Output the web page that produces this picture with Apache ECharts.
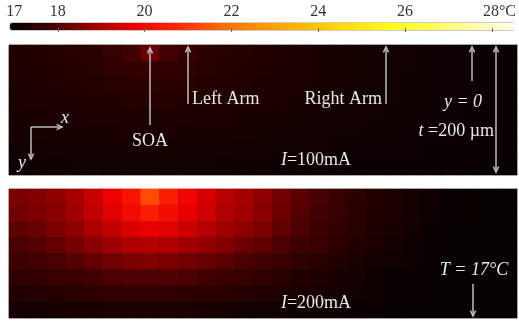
<!DOCTYPE html>
<html>
<head>
<meta charset="utf-8">
<script src="https://cdn.jsdelivr.net/npm/echarts@6/dist/echarts.min.js"></script>
<style>
  html, body { margin: 0; padding: 0; background: #fff; }
  #chart { width: 519px; height: 322px; }
</style>
</head>
<body>
<div id="chart"></div>
<script>
// colour scale (deg C) and the colours, evenly spaced from min to max
const scaleMin = 16.9
const scaleMax = 28.5
const scaleColors = ['#000000', '#420000', '#a00000', '#f00000', '#ff2800', '#ff6a00', '#ff9500',
  '#ffbb00', '#ffe000', '#ffff10', '#ffff50', '#ffffa8', '#fffff5']
const scaleLabels = [17, 18, 20, 22, 24, 26, 28]
const scaleTicks = [18, 20, 22, 24, 26, 28]

// cells: 27 columns along x, 8 rows along y (y = 0 at top)
const xCells = Array.from({ length: 27 }, (_, i) => 'x' + i)
const yCells = ['y0', 'y1', 'y2', 'y3', 'y4', 'y5', 'y6', 'y7']

// temperature, I = 100 mA
const temp100 = [
  [17.38, 17.4, 17.43, 17.48, 17.55, 17.66, 17.85, 18.25, 17.85, 17.66, 17.55, 17.48, 17.43, 17.39, 17.35, 17.31, 17.27, 17.24, 17.21, 17.18, 17.15, 17.13, 17.11, 17.09, 17.07, 17.06, 17.05],
  [17.36, 17.38, 17.41, 17.45, 17.5, 17.57, 17.64, 17.68, 17.64, 17.57, 17.5, 17.45, 17.41, 17.38, 17.34, 17.3, 17.27, 17.24, 17.21, 17.18, 17.15, 17.13, 17.11, 17.09, 17.07, 17.06, 17.05],
  [17.33, 17.35, 17.37, 17.4, 17.44, 17.48, 17.51, 17.53, 17.51, 17.48, 17.44, 17.4, 17.37, 17.34, 17.31, 17.28, 17.25, 17.22, 17.19, 17.17, 17.14, 17.12, 17.1, 17.08, 17.07, 17.06, 17.05],
  [17.3, 17.32, 17.34, 17.36, 17.38, 17.4, 17.42, 17.43, 17.42, 17.4, 17.38, 17.36, 17.33, 17.3, 17.28, 17.25, 17.23, 17.2, 17.18, 17.15, 17.13, 17.11, 17.1, 17.08, 17.06, 17.05, 17.04],
  [17.26, 17.27, 17.29, 17.3, 17.32, 17.33, 17.34, 17.35, 17.34, 17.33, 17.31, 17.29, 17.27, 17.25, 17.23, 17.21, 17.19, 17.17, 17.15, 17.13, 17.12, 17.1, 17.09, 17.07, 17.06, 17.05, 17.04],
  [17.22, 17.23, 17.24, 17.25, 17.26, 17.27, 17.28, 17.28, 17.28, 17.27, 17.26, 17.24, 17.23, 17.21, 17.2, 17.18, 17.16, 17.15, 17.13, 17.12, 17.1, 17.09, 17.08, 17.07, 17.06, 17.05, 17.03],
  [17.16, 17.17, 17.18, 17.19, 17.2, 17.21, 17.21, 17.21, 17.21, 17.2, 17.19, 17.18, 17.17, 17.16, 17.15, 17.14, 17.13, 17.12, 17.1, 17.09, 17.08, 17.07, 17.06, 17.05, 17.05, 17.04, 17.03],
  [17.1, 17.11, 17.12, 17.13, 17.13, 17.14, 17.14, 17.14, 17.14, 17.13, 17.13, 17.12, 17.11, 17.1, 17.09, 17.09, 17.08, 17.07, 17.06, 17.05, 17.05, 17.04, 17.04, 17.03, 17.03, 17.03, 17.02],
]

// temperature, I = 200 mA
const temp200 = [
  [18.45, 18.55, 18.65, 18.9, 19.3, 19.75, 20.3, 21.3, 20.5, 19.9, 19.5, 19.1, 18.9, 18.65, 18.35, 18.1, 17.9, 17.7, 17.55, 17.4, 17.3, 17.2, 17.1, 17.05, 17.02, 17.0, 17.0],
  [18.35, 18.45, 18.6, 18.85, 19.2, 19.6, 20.05, 20.5, 20.1, 19.7, 19.4, 19.05, 18.85, 18.6, 18.3, 18.05, 17.85, 17.7, 17.5, 17.4, 17.3, 17.2, 17.1, 17.05, 17.02, 17.0, 17.0],
  [18.15, 18.25, 18.45, 18.65, 18.95, 19.25, 19.55, 19.7, 19.6, 19.35, 19.1, 18.85, 18.65, 18.45, 18.2, 17.95, 17.8, 17.65, 17.5, 17.35, 17.25, 17.15, 17.05, 17.02, 17.0, 17.0, 17.0],
  [17.95, 18.05, 18.2, 18.4, 18.6, 18.8, 19.0, 19.05, 19.0, 18.85, 18.7, 18.5, 18.3, 18.15, 17.95, 17.8, 17.7, 17.55, 17.4, 17.3, 17.2, 17.1, 17.05, 17.02, 17.0, 17.0, 17.0],
  [17.8, 17.85, 17.95, 18.05, 18.2, 18.35, 18.45, 18.5, 18.45, 18.35, 18.25, 18.1, 17.95, 17.85, 17.75, 17.6, 17.5, 17.4, 17.3, 17.2, 17.15, 17.1, 17.05, 17.02, 17.0, 17.0, 17.0],
  [17.6, 17.65, 17.7, 17.75, 17.85, 17.95, 18.0, 18.0, 18.0, 17.95, 17.85, 17.75, 17.7, 17.6, 17.5, 17.4, 17.35, 17.25, 17.2, 17.1, 17.05, 17.05, 17.02, 17.0, 17.0, 17.0, 17.0],
  [17.4, 17.42, 17.45, 17.5, 17.55, 17.6, 17.62, 17.62, 17.6, 17.58, 17.55, 17.5, 17.45, 17.4, 17.35, 17.3, 17.25, 17.2, 17.15, 17.1, 17.05, 17.03, 17.02, 17.0, 17.0, 17.0, 17.0],
  [17.2, 17.2, 17.22, 17.25, 17.27, 17.3, 17.3, 17.3, 17.3, 17.28, 17.25, 17.22, 17.2, 17.18, 17.15, 17.12, 17.1, 17.08, 17.05, 17.03, 17.0, 17.0, 17.0, 17.0, 17.0, 17.0, 17.0],
]

const toCells = (rows) => {
  const out = []
  rows.forEach((row, r) => row.forEach((v, c) => out.push([c, r, v])))
  return out
}

const serif = 'Liberation Serif, Times New Roman, serif'
const noteColor = '#e8e8e8'
const arrowColor = '#bdbdbd'

// simple arrow: line from (x1,y1) to (x2,y2), open head at the end(s)
const arrow = (x1, y1, x2, y2, both) => {
  const els = [{
    type: 'line', silent: true, z: 20,
    shape: { x1, y1, x2, y2 },
    style: { stroke: arrowColor, lineWidth: 1.5 },
  }]
  const head = (tx, ty, fx, fy) => {
    const a = Math.atan2(ty - fy, tx - fx)
    const s = 6
    els.push({
      type: 'polyline', silent: true, z: 20,
      shape: {
        points: [
          [tx - s * Math.cos(a - 0.45), ty - s * Math.sin(a - 0.45)],
          [tx, ty],
          [tx - s * Math.cos(a + 0.45), ty - s * Math.sin(a + 0.45)],
        ],
      },
      style: { stroke: arrowColor, lineWidth: 1.5, fill: null },
    })
  }
  head(x2, y2, x1, y1)
  if (both) head(x1, y1, x2, y2)
  return els
}

const note = (x, y, text, align, italic) => ({
  type: 'text', silent: true, z: 21, x, y,
  style: {
    text, fill: noteColor, fontFamily: serif, fontSize: 18,
    fontStyle: italic ? 'italic' : 'normal',
    align: align || 'center', verticalAlign: 'middle',
    rich: {
      i: { fontStyle: 'italic', fontFamily: serif, fontSize: 18, fill: noteColor },
    },
  },
})

const chart = echarts.init(document.getElementById('chart'), null, { renderer: 'canvas' })

chart.setOption({
  backgroundColor: '#fff',
  animation: false,
  grid: [
    { left: 10, top: 23, width: 506, height: 7, show: true, borderColor: '#9a9a9a', borderWidth: 1 },
    { left: 9, top: 45, width: 508, height: 130, show: true, borderColor: '#b8b8b8', borderWidth: 1, backgroundColor: '#000' },
    { left: 9, top: 189, width: 508, height: 129, show: true, borderColor: '#b8b8b8', borderWidth: 1, backgroundColor: '#000' },
  ],
  xAxis: [
    {
      gridIndex: 0, type: 'value', min: scaleMin, max: scaleMax, position: 'top', z: 10,
      axisLine: { show: false }, splitLine: { show: false },
      axisTick: { show: true, inside: true, length: 2, customValues: scaleTicks, lineStyle: { color: '#666' } },
      axisLabel: {
        show: true, customValues: scaleLabels, margin: 3, color: '#333',
        fontFamily: serif, fontSize: 16,
        formatter: (v) => (v === 28 ? '{pad|}28°C' : String(v)),
        rich: { pad: { width: 15 } },
      },
    },
    {
      gridIndex: 0, type: 'value', min: scaleMin, max: scaleMax, position: 'bottom', z: 10,
      axisLine: { show: false }, splitLine: { show: false }, axisLabel: { show: false },
      axisTick: { show: true, inside: true, length: 2, customValues: scaleTicks, lineStyle: { color: '#666' } },
    },
    { gridIndex: 1, type: 'category', data: xCells, show: false },
    { gridIndex: 2, type: 'category', data: xCells, show: false },
  ],
  yAxis: [
    { gridIndex: 0, type: 'value', show: false },
    { gridIndex: 1, type: 'category', data: yCells, inverse: true, show: false },
    { gridIndex: 2, type: 'category', data: yCells, inverse: true, show: false },
  ],
  visualMap: {
    type: 'continuous', min: scaleMin, max: scaleMax, dimension: 2, seriesIndex: [0, 1],
    orient: 'horizontal', left: 10, top: 23, itemWidth: 7, itemHeight: 506,
    calculable: false, hoverLink: false, padding: 0, text: null,
    inRange: { color: scaleColors },
  },
  series: [
    {
      name: 'I=100mA', type: 'heatmap', xAxisIndex: 2, yAxisIndex: 1,
      data: toCells(temp100), progressive: 0, silent: true, emphasis: { disabled: true },
    },
    {
      name: 'I=200mA', type: 'heatmap', xAxisIndex: 3, yAxisIndex: 2,
      data: toCells(temp200), progressive: 0, silent: true, emphasis: { disabled: true },
    },
  ],
  graphic: [
    // upper panel
    ...arrow(150, 125, 150, 48),
    ...arrow(188, 104, 188, 47),
    ...arrow(386, 104, 386, 47),
    ...arrow(472, 81, 472, 47),
    ...arrow(496, 172, 496, 47, true),
    ...arrow(31, 127, 62, 127),
    ...arrow(31, 127, 31, 159),
    note(150, 141, 'SOA'),
    note(192, 99, 'Left Arm', 'left'),
    note(382, 99, 'Right Arm', 'right'),
    note(463, 102, 'y = 0', 'center', true),
    note(494, 131, '{i|t} =200 µm', 'right'),
    note(316, 160, '{i|I}=100mA'),
    note(65, 118, 'x', 'center', true),
    note(22, 163, 'y', 'center', true),
    // lower panel
    ...arrow(473, 284, 473, 316),
    note(474, 270, 'T = 17°C', 'center', true),
    note(316, 303, '{i|I}=200mA'),
  ],
})
</script>
</body>
</html>
